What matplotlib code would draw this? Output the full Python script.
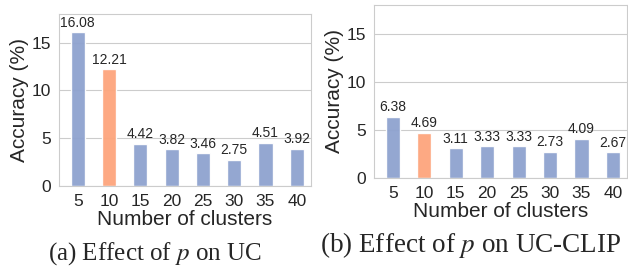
import matplotlib
matplotlib.use("Agg")
import matplotlib.pyplot as plt
import seaborn as sns

sns.set_style("whitegrid")
plt.rcParams['font.family'] = ['Liberation Sans', 'DejaVu Sans']
plt.rcParams['mathtext.fontset'] = 'stix'

clusters = ["5", "10", "15", "20", "25", "30", "35", "40"]
acc_uc = [16.08, 12.21, 4.42, 3.82, 3.46, 2.75, 4.51, 3.92]
acc_uc_clip = [6.38, 4.69, 3.11, 3.33, 3.33, 2.73, 4.09, 2.67]
highlight = 1  # the 10-cluster bar

blue = '#8EA2CF'
orange = '#FDA57C'

fig = plt.figure(figsize=(6.28, 2.68), dpi=100)
ax1 = fig.add_axes([0.094, 0.306, 0.401, 0.642])
ax2 = fig.add_axes([0.5955, 0.336, 0.403, 0.6455])

for ax, vals in [(ax1, acc_uc), (ax2, acc_uc_clip)]:
    colors = [orange if i == highlight else blue for i in range(len(vals))]
    x = list(range(len(clusters)))
    ax.bar(x, vals, width=0.45, color=colors, alpha=0.95, zorder=2)
    for xi, v in zip(x, vals):
        ax.text(xi, v + 0.25, "%.2f" % v, ha='center', va='bottom',
                fontsize=10, color='#262626')
    ax.set_xticks(x)
    ax.set_xticklabels(clusters)
    ax.set_xlim(-0.6, 7.45)
    ax.set_ylim(0, 18)
    ax.set_yticks([0, 5, 10, 15])
    ax.tick_params(axis='both', labelsize=12.5, pad=2)
    ax.set_xlabel("Number of clusters", fontsize=15, labelpad=1)
    ax.set_ylabel("Accuracy (%)", fontsize=15, labelpad=2)
    ax.grid(axis='x', visible=False)
    ax.set_axisbelow(True)

fig.text(0.247, 0.052, r"(a) Effect of $p$ on UC", ha='center', va='center',
         fontsize=18, family='Liberation Serif')
fig.text(0.75, 0.085, r"(b) Effect of $p$ on UC-CLIP", ha='center', va='center',
         fontsize=19.5, family='Liberation Serif')

plt.savefig("out.png", dpi=100)
